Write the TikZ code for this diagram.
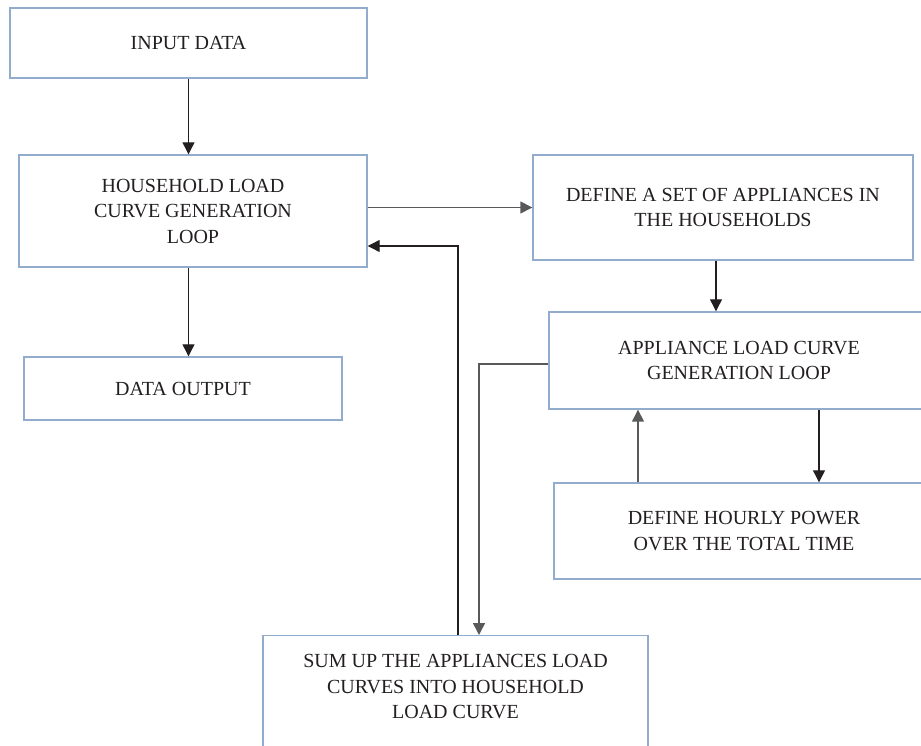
\documentclass[tikz,border=0pt]{standalone}
\usepackage{fontspec}
\setmainfont{Liberation Serif}
\usetikzlibrary{arrows.meta}
\definecolor{boxblue}{RGB}{146,172,206}
\definecolor{ink}{RGB}{35,31,32}
\definecolor{wire}{RGB}{88,89,91}
\begin{document}
\begin{tikzpicture}[x=1pt,y=-1pt,
  box/.style={draw=boxblue, line width=1.4pt, rectangle, inner sep=0pt,
    align=center, text=ink, font=\fontsize{20}{25.5}\selectfont},
  txt/.style={inner sep=0pt, align=center, text=ink,
    font=\fontsize{20}{25.5}\selectfont},
  arr/.style={draw=ink, line width=1.2pt,
    -{Triangle[length=12pt,width=12pt]}},
  grayarr/.style={arr, draw=wire, line width=1.5pt}
]
\useasboundingbox (0,0) rectangle (921,746);
\clip (0,0) rectangle (921,746);

% process boxes
\node[box, minimum width=357pt, minimum height=70pt] (input) at (188.5,43) {INPUT DATA};
\node[box, minimum width=348pt, minimum height=112pt] (hh) at (193,211)
  {HOUSEHOLD LOAD\\CURVE GENERATION\\LOOP};
\node[box, minimum width=318pt, minimum height=63pt] (out) at (183,388.5) {DATA OUTPUT};
\node[box, minimum width=380pt, minimum height=105pt] (set) at (723,207.5)
  {DEFINE A SET OF APPLIANCES IN\\THE HOUSEHOLDS};
\node[box, minimum width=380pt, minimum height=97pt] (app) at (739,360.5)
  {APPLIANCE LOAD CURVE\\GENERATION LOOP};
\node[box, minimum width=380pt, minimum height=96pt] (hourly) at (744,531)
  {DEFINE HOURLY POWER\\OVER THE TOTAL TIME};
\node[box, minimum width=385pt, minimum height=130pt, anchor=north] (sum) at (455.5,635) {};
\node[txt] (sumtxt) at (455.5,687)
  {SUM UP THE APPLIANCES LOAD\\CURVES INTO HOUSEHOLD\\LOAD CURVE};

% routing points
\coordinate (back) at (458,246);
\coordinate (feed) at (479,364);
\coordinate (chain) at (716,290);
\coordinate (up) at (638,445);
\coordinate (dn) at (819,445);

% connectors
\draw[arr] (input.south) -- (input.south |- hh.north);
\draw[grayarr] (hh.east |- set.west) -- (set.west);
\draw[arr] (back |- sum.north) -- (back) -- (back -| hh.east);
\draw[arr] (input.south |- hh.south) -- (input.south |- out.north);
\draw[arr] (chain |- set.south) -- (chain |- app.north);
\draw[grayarr] (app.west |- feed) -- (feed) -- (feed |- sum.north);
\draw[grayarr] (up |- hourly.north) -- (up |- app.south);
\draw[arr] (dn |- app.south) -- (dn |- hourly.north);
\end{tikzpicture}
\end{document}
